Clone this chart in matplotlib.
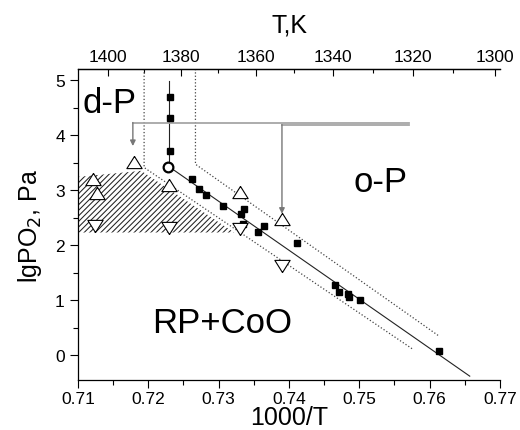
import numpy as np
import matplotlib
matplotlib.use("Agg")
import matplotlib.pyplot as plt
from matplotlib.patches import Polygon
from matplotlib.ticker import MultipleLocator

plt.rcParams['font.family'] = ['Liberation Sans', 'DejaVu Sans']
plt.rcParams['hatch.linewidth'] = 0.75

# measured points (filled squares)
sq_x = [0.7231, 0.7231, 0.7231, 0.7262, 0.7272, 0.7282, 0.7306, 0.7332, 0.7336, 0.7335,
        0.7356, 0.7364, 0.7412, 0.7465, 0.7471, 0.7484, 0.7485, 0.7501, 0.7613]
sq_y = [4.70, 4.31, 3.71, 3.20, 3.02, 2.91, 2.72, 2.57, 2.65, 2.38,
        2.23, 2.34, 2.03, 1.28, 1.14, 1.12, 1.05, 1.01, 0.07]

# open circle (triple point)
circ_x = [0.7228]
circ_y = [3.42]

# open triangles up / down
up_x = [0.7179, 0.7122, 0.7127, 0.7229, 0.7330, 0.7390]
up_y = [3.51, 3.20, 2.95, 3.10, 2.97, 2.47]
dn_x = [0.7124, 0.7230, 0.7330, 0.7390]
dn_y = [2.34, 2.32, 2.29, 1.63]

# phase boundary (solid) and confidence band (dotted)
vert_x = [0.7230, 0.7230]
vert_y = [4.99, 3.42]
diag_x = [0.7230, 0.7657]
diag_y = [3.42, -0.38]
low_x = [0.7194, 0.7194, 0.7576]
low_y = [5.2, 3.41, 0.11]
upp_x = [0.7267, 0.7267, 0.7612]
upp_y = [5.2, 3.47, 0.36]

# hatched region
hatch_x = [0.71, 0.719, 0.7322, 0.71]
hatch_y = [3.24, 3.35, 2.23, 2.23]

t_major = [1400, 1380, 1360, 1340, 1320, 1300]
t_minor = [1390, 1370, 1350, 1330, 1310]

fig = plt.figure(figsize=(5.2, 4.31), dpi=100)
ax = fig.add_axes([0.15, 0.116, 0.8115, 0.7216])

ax.add_patch(Polygon(list(zip(hatch_x, hatch_y)), closed=True, facecolor='white',
                     edgecolor='#222222', linewidth=0, hatch='//////', zorder=1))

ax.plot(low_x, low_y, ls=':', color='#444444', lw=0.9, zorder=2)
ax.plot(upp_x, upp_y, ls=':', color='#444444', lw=0.9, zorder=2)
ax.plot(vert_x, vert_y, color='#222222', lw=0.8, zorder=2)
ax.plot(diag_x, diag_y, color='#222222', lw=0.8, zorder=2)

# gray arrows
gray = '#a6a6a6'
ax.plot([0.7178, 0.7570], [4.227, 4.227], color=gray, lw=1.3, zorder=2)
ax.plot([0.7390, 0.7570], [4.19, 4.19], color=gray, lw=1.3, zorder=2)
ax.annotate('', xy=(0.7178, 3.80), xytext=(0.7178, 4.227),
            arrowprops=dict(arrowstyle='-|>', color='#777777', lw=1.0, mutation_scale=8,
                            shrinkA=0, shrinkB=0), zorder=2)
ax.annotate('', xy=(0.7390, 2.57), xytext=(0.7390, 4.19),
            arrowprops=dict(arrowstyle='-|>', color='#777777', lw=1.0, mutation_scale=8,
                            shrinkA=0, shrinkB=0), zorder=2)

ax.plot(sq_x, sq_y, ls='none', marker='s', ms=4.5, color='black', zorder=3)
tri_up = [(0, 0.8), (-1, -0.8), (1, -0.8), (0, 0.8)]
tri_dn = [(0, -0.8), (-1, 0.8), (1, 0.8), (0, -0.8)]
ax.plot(up_x, up_y, ls='none', marker=tri_up, ms=11, mfc='white', mec='black', mew=0.8, zorder=4)
ax.plot(dn_x, dn_y, ls='none', marker=tri_dn, ms=11, mfc='white', mec='black', mew=0.8, zorder=4)
ax.plot(circ_x, circ_y, ls='none', marker='o', ms=7, mfc='white', mec='black', mew=1.6, zorder=4)

ax.text(0.7107, 4.42, 'd-P', fontsize=25, ha='left', va='baseline')
ax.text(0.7492, 2.99, 'o-P', fontsize=25, ha='left', va='baseline')
ax.text(0.7206, 0.42, 'RP+CoO', fontsize=25, ha='left', va='baseline')

ax.set_xlim(0.71, 0.77)
ax.set_ylim(-0.45, 5.2)
ax.xaxis.set_minor_locator(MultipleLocator(0.005))
ax.yaxis.set_major_locator(MultipleLocator(1))
ax.yaxis.set_minor_locator(MultipleLocator(0.5))
ax.set_xticks([0.71, 0.72, 0.73, 0.74, 0.75, 0.76, 0.77])
ax.set_xticklabels(['0.71', '0.72', '0.73', '0.74', '0.75', '0.76', '0.77'])
ax.tick_params(which='both', direction='out', labelsize=12.5, width=0.8)
ax.tick_params(which='major', length=6)
ax.tick_params(which='minor', length=3.5)
ax.tick_params(axis='x', which='major', pad=2)
ax.tick_params(top=False, right=False, which='both')
ax.spines['right'].set_visible(False)
for s in ['left', 'bottom', 'top']:
    ax.spines[s].set_linewidth(0.9)

ax.set_ylabel('lgPO$_2$, Pa', fontsize=18, labelpad=8)
fig.text(289 / 520, 6 / 431, '1000/T', fontsize=18, ha='center', va='baseline')
fig.text(289 / 520, 1 - 33 / 431, 'T,K', fontsize=18, ha='center', va='baseline')


def to_t(x):
    x = np.asarray(x, dtype=float)
    with np.errstate(divide='ignore'):
        return 1000.0 / x


sec = ax.secondary_xaxis('top', functions=(to_t, to_t))
sec.set_xticks(t_major)
sec.set_xticks(t_minor, minor=True)
sec.tick_params(which='both', direction='in', labelsize=12.5, width=0.8)
sec.tick_params(which='major', length=5)
sec.tick_params(which='minor', length=3)
sec.spines['top'].set_linewidth(0.9)

fig.savefig('out.png', dpi=100)
